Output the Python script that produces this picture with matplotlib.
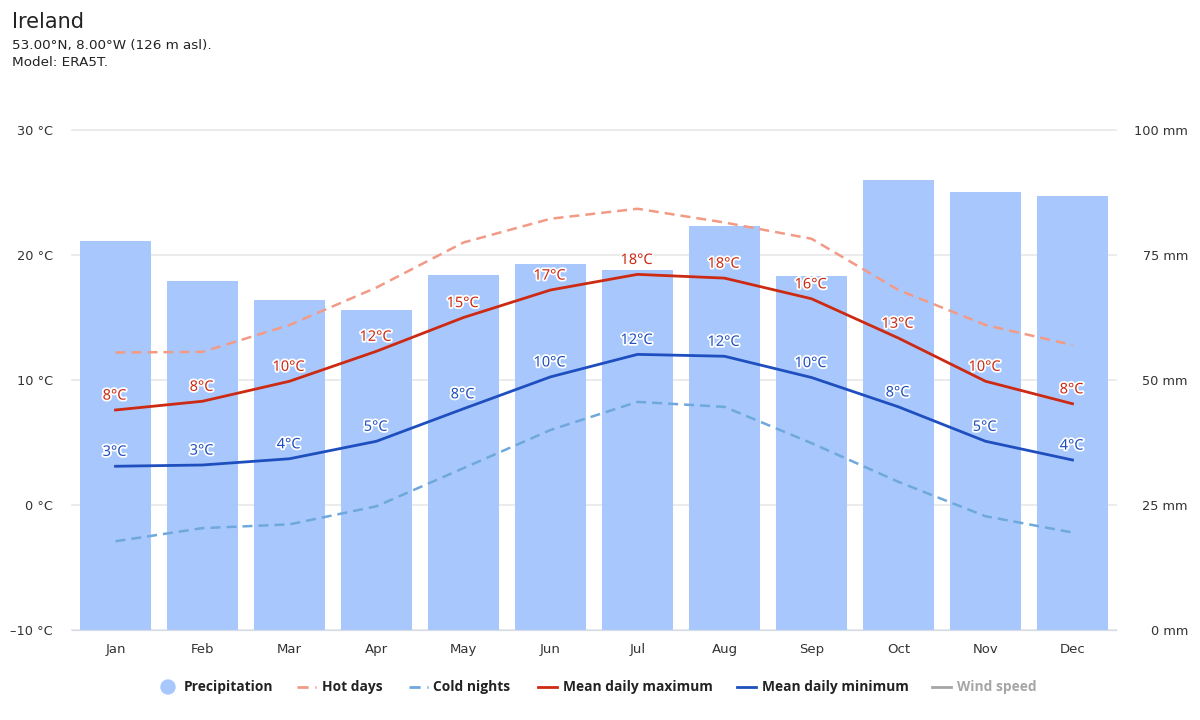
import matplotlib
matplotlib.use('Agg')
import matplotlib.pyplot as plt
import matplotlib.patheffects as pe
from matplotlib.lines import Line2D
from matplotlib.patches import Ellipse

months = ['Jan', 'Feb', 'Mar', 'Apr', 'May', 'Jun', 'Jul', 'Aug', 'Sep', 'Oct', 'Nov', 'Dec']
precipitation = [77.8, 69.8, 66.0, 64.0, 71.0, 73.2, 72.0, 80.8, 70.8, 90.0, 87.6, 86.8]
hot_days = [12.2, 12.25, 14.4, 17.4, 21.0, 22.9, 23.7, 22.6, 21.3, 17.2, 14.4, 12.8]
cold_nights = [-2.9, -1.85, -1.55, -0.1, 2.95, 6.0, 8.25, 7.85, 4.95, 1.85, -0.9, -2.2]
mean_max = [7.6, 8.3, 9.9, 12.3, 15.0, 17.2, 18.45, 18.15, 16.5, 13.35, 9.9, 8.1]
mean_min = [3.1, 3.2, 3.7, 5.1, 7.7, 10.25, 12.05, 11.9, 10.2, 7.85, 5.1, 3.6]
temp_ticks = [-10, 0, 10, 20, 30]
rain_ticks = [0, 25, 50, 75, 100]

BAR = '#a8c8fd'
HOT = '#f39a87'
COLD = '#6fa8dc'
MAXC = '#cc2a12'
MINC = '#1f4fbf'
GREY = '#a6a6a6'
DASH = (0, (4, 2.4))

plt.rcParams['font.family'] = ['DejaVu Sans']

fig = plt.figure(figsize=(12, 7.2), dpi=100)
ax = fig.add_axes([72 / 1200, 90 / 720, 1044 / 1200, 500 / 720])
axr = ax.twinx()
ax.set_zorder(axr.get_zorder() + 1)
ax.patch.set_visible(False)

x = list(range(12))
axr.bar(x, precipitation, width=0.805, color=BAR, zorder=2)
axr.set_ylim(0, 100)
axr.set_yticks(rain_ticks)
axr.set_yticklabels(['%d mm' % v for v in rain_ticks], fontsize=9.3, color='#333333', ha='right')
axr.grid(axis='y', color='#e8e8e8', lw=1.2, zorder=0, clip_on=False)
axr.set_axisbelow(True)
axr.tick_params(axis='y', length=0, pad=51.8)

ax.set_xlim(-0.5, 11.5)
ax.set_ylim(-10, 30)
ax.set_yticks(temp_ticks)
ax.set_yticklabels(['%d °C' % v if v >= 0 else '–%d °C' % -v for v in temp_ticks],
                   fontsize=9.3, color='#333333')
ax.tick_params(axis='y', length=0, pad=13.7)
ax.set_xticks(x)
ax.set_xticklabels(months, fontsize=9.5, color='#333333')
ax.tick_params(axis='x', length=0, pad=9.5)
for a in [ax, axr]:
    for name in ['top', 'left', 'right']:
        a.spines[name].set_visible(False)
    a.spines['bottom'].set_color('#d5dbe8')

ax.plot(x, hot_days, color=HOT, lw=1.8, ls=DASH, zorder=4)
ax.plot(x, cold_nights, color=COLD, lw=1.8, ls=DASH, zorder=4)
ax.plot(x, mean_max, color=MAXC, lw=2.0, zorder=4)
ax.plot(x, mean_min, color=MINC, lw=2.0, zorder=4)

# labels above the two mean lines
for vals, col in [(mean_max, MAXC), (mean_min, MINC)]:
    for i, v in enumerate(vals):
        t = ax.annotate('%d°C' % round(v), (i, v), xytext=(-0.7, 10), textcoords='offset points',
                        ha='center', va='center', fontsize=10.5, family='Noto Sans', color=col, zorder=6)
        t.set_path_effects([pe.withStroke(linewidth=2.6, foreground='white')])

fig.text(12 / 1200, 1 - 22 / 720, 'Ireland', fontsize=15, color='#222222', va='center')
fig.text(12 / 1200, 1 - 45 / 720, '53.00°N, 8.00°W (126 m asl).', fontsize=9.7, color='#222222', va='center')
fig.text(12 / 1200, 1 - 63 / 720, 'Model: ERA5T.', fontsize=9.7, color='#222222', va='center')

# legend, spaced by hand like the original
fig.add_artist(Ellipse((168 / 1200, 1 - 687 / 720), 14 / 1200, 14 / 720, color=BAR,
                       transform=fig.transFigure))
legend_lines = [(297, HOT, (0, (4, 2.4, 1.1, 2.4))), (409, COLD, (0, (4, 2.4, 1.1, 2.4))),
                (538, MAXC, '-'), (737, MINC, '-'), (932, GREY, '-')]
for px, col, ls in legend_lines:
    fig.add_artist(Line2D([px / 1200, (px + 19) / 1200], [1 - 687 / 720] * 2, color=col, lw=2.0,
                          ls=ls, transform=fig.transFigure))
legend_text = [('Precipitation', 184), ('Hot days', 322), ('Cold nights', 433),
               ('Mean daily maximum', 563), ('Mean daily minimum', 762), ('Wind speed', 957)]
for name, px in legend_text:
    fig.text(px / 1200, 1 - 687 / 720, name, fontsize=9.9, fontweight='bold', va='center',
             family='Open Sans', color=GREY if name == 'Wind speed' else '#222222')

fig.savefig('out.png', dpi=100)
